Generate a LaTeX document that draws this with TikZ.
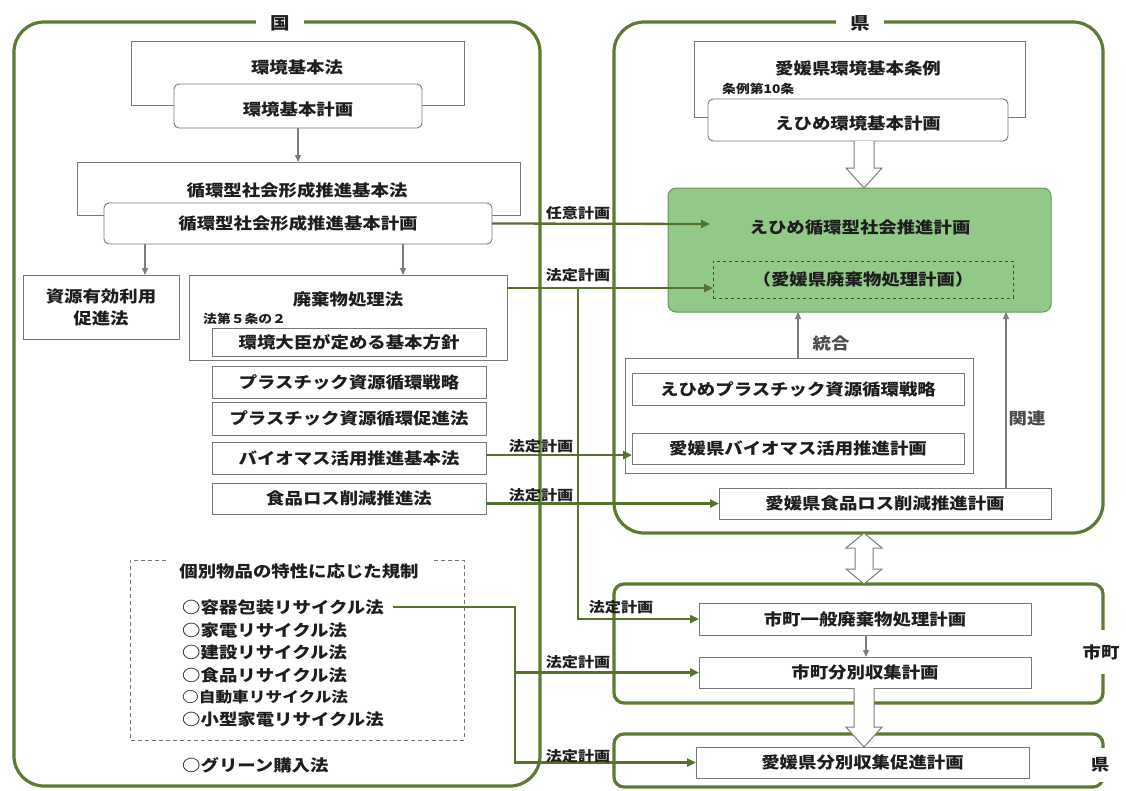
\documentclass[tikz,border=0pt]{standalone}
\usepackage{fontspec}
\setmainfont{Noto Sans CJK JP}[FakeStretch=1.15]
\usetikzlibrary{arrows.meta,calc}
\definecolor{frg}{RGB}{92,122,48}
\definecolor{cong}{RGB}{86,114,46}
\definecolor{boxgray}{RGB}{120,120,120}
\definecolor{arrgray}{RGB}{125,125,125}
\definecolor{gfill}{RGB}{146,200,136}
\definecolor{gdraw}{RGB}{105,150,90}
\definecolor{txtc}{RGB}{30,30,30}
\definecolor{txtg}{RGB}{75,75,75}
\newcommand\mfnt{\fontsize{16}{22}\selectfont\bfseries}
\newcommand\lfnt{\fontsize{14}{17}\selectfont\bfseries}
\newcommand\sfnt{\fontsize{12}{14}\selectfont\bfseries}
\newcommand\tfnt{\fontsize{17}{20}\selectfont\bfseries}
% box from corners: [style]{name}{x1}{y1}{x2}{y2}{text}
\newcommand\bxat[7][]{\node[bx,#1,minimum width={#5-(#3)},minimum height={#6-(#4)}] (#2) at ({(#3+#5)/2},{(#4+#6)/2}) {#7};}
\newcommand\blkdown[2]{\path[blk] let \p1=(#1), \p2=(#2) in (\x1-10pt,\y1) -- (\x1-10pt,\y2+20pt) -- (\x1-18pt,\y2+20pt) -- (\x1,\y2) -- (\x1+18pt,\y2+20pt) -- (\x1+10pt,\y2+20pt) -- (\x1+10pt,\y1);}
\newcommand\blkboth[2]{\path[blk] let \p1=(#1), \p2=(#2) in (\x1,\y1) -- (\x1+18pt,\y1-15pt) -- (\x1+9pt,\y1-15pt) -- (\x1+9pt,\y2+15pt) -- (\x1+18pt,\y2+15pt) -- (\x1,\y2) -- (\x1-18pt,\y2+15pt) -- (\x1-9pt,\y2+15pt) -- (\x1-9pt,\y1-15pt) -- (\x1-18pt,\y1-15pt) -- cycle;}
\begin{document}
\begin{tikzpicture}[x=1pt,y=-1pt,
  bx/.style={draw=boxgray, line width=0.9pt, fill=white, inner sep=0pt, outer sep=0pt, font=\mfnt, text=txtc, align=center},
  rbx/.style={rounded corners=5pt},
  gbox/.style={fill=gfill, draw=gdraw, line width=1pt, rounded corners=8pt},
  dplan/.style={fill=none, draw={rgb,255:red,60;green,80;blue,50}, dashed, line width=0.9pt},
  txt/.style={inner sep=0pt, font=\mfnt, text=txtc},
  itm/.style={inner sep=0pt, font=\mfnt, text=txtc, anchor=west},
  small/.style={inner sep=0pt, font=\sfnt, text=txtc, anchor=west},
  lab/.style={inner sep=0pt, font=\lfnt, text=txtc},
  glab/.style={inner sep=0pt, font=\mfnt, text=txtg},
  ttl/.style={fill=white, inner xsep=14pt, inner ysep=2pt, font=\tfnt, text=txtc},
  frame/.style={draw=frg, line width=3.2pt, rounded corners=30pt},
  con/.style={draw=cong, line width=2.3pt, -{Triangle[length=9pt,width=8pt]}},
  garrow/.style={draw=arrgray, line width=1.1pt, -{Triangle[length=7pt,width=6pt]}},
  blk/.style={draw=arrgray, line width=1pt, fill=white},
  dashbox/.style={draw=boxgray, line width=0.8pt, dash pattern=on 4pt off 3pt}
]
\useasboundingbox (0,0) rectangle (1126,790);
\fill[white] (0,0) rectangle (1126,790);

% ---------- frames ----------
\draw[frame] (14,22) rectangle (540,786);
\draw[frame] (614,22) rectangle (1103,533);
\draw[frame, rounded corners=10pt] (614,584) rectangle (1103,703);
\draw[frame, rounded corners=10pt] (614,734) rectangle (1103,787);
\node[ttl] (kuniT) at (280,23) {国};
\node[ttl] (kenT) at (860,23) {県};
\node[ttl, font=\mfnt, inner xsep=2pt, inner ysep=14pt] (shichoT) at (1101,652) {市町};
\node[ttl, font=\mfnt, inner xsep=2pt, inner ysep=10pt] (kenT2) at (1100,765) {県};

% ---------- 国 ----------
\bxat{kihonho}{131}{41}{464}{105}{}
\node[txt] (t-kihonho) at (297,67) {環境基本法};
\bxat[rbx]{kihonkeikaku}{174}{84}{422}{128}{}
\node[txt] (t-kihonkeikaku) at (298,109) {環境基本計画};
\bxat{junkanho}{77}{162}{520}{215}{}
\node[txt] (t-junkanho) at (297,190) {循環型社会形成推進基本法};
\bxat[rbx]{junkankeikaku}{104}{203}{492}{244}{循環型社会形成推進基本計画}
\bxat{shigen}{23}{275}{179}{339}{資源有効利用\\促進法}
\bxat{haiki}{189}{275}{507}{360}{}
\node[txt] (t-haiki) at (348,299) {廃棄物処理法};
\node[small] (jou5) at (203,319) {法第５条の２};
\bxat{houshin}{212}{328}{486}{356}{環境大臣が定める基本方針}
\bxat{psen}{212}{366}{486}{398}{プラスチック資源循環戦略}
\bxat{psoku}{212}{402}{486}{435}{プラスチック資源循環促進法}
\bxat{biomass}{212}{442}{486}{474}{バイオマス活用推進基本法}
\bxat{shokuhin}{212}{483}{486}{514}{食品ロス削減推進法}

\draw[dashbox] (166,560) -- (130,560) -- (130,740) -- (464,740) -- (464,560) -- (434,560);
\node[txt] (kobetsu) at (299,571) {個別物品の特性に応じた規制};
\node[itm] (i1) at (182,607) {○容器包装リサイクル法};
\node[itm] (i2) at (182,630) {○家電リサイクル法};
\node[itm] (i3) at (182,652) {○建設リサイクル法};
\node[itm] (i4) at (182,675) {○食品リサイクル法};
\node[itm, font=\fontsize{14.5}{17}\selectfont\bfseries] (i5) at (182,697) {○自動車リサイクル法};
\node[itm] (i6) at (182,719) {○小型家電リサイクル法};
\node[itm] (i7) at (182,765) {○グリーン購入法};

% ---------- 県 ----------
\bxat{jourei}{694}{41}{1025}{117}{}
\node[txt] (t-jourei) at (858,68) {愛媛県環境基本条例};
\node[small] (jou10) at (722,89) {条例第10条};
\bxat[rbx]{ehimekeikaku}{708}{99}{1008}{141}{}
\node[txt] (t-ehimekeikaku) at (858,123) {えひめ環境基本計画};
\bxat[gbox]{green}{668}{188}{1051}{312}{}
\node[txt] (t-green) at (860,227) {えひめ循環型社会推進計画};
\bxat[dplan]{dashedplan}{713}{261}{1013}{298}{（愛媛県廃棄物処理計画）}
\bxat{group}{625}{358}{973}{473}{}
\bxat{eplastic}{632}{373}{964}{405}{えひめプラスチック資源循環戦略}
\bxat{ebiomass}{632}{433}{964}{464}{愛媛県バイオマス活用推進計画}
\bxat{splan}{719}{488}{1051}{519}{愛媛県食品ロス削減推進計画}
\node[glab] (tougou) at (831,343) {統合};
\node[glab] (kanren) at (1027,418) {関連};

% ---------- 市町 / 県 ----------
\bxat{shichoippan}{699}{603}{1031}{635}{市町一般廃棄物処理計画}
\bxat{shichobunbetsu}{699}{657}{1031}{688}{市町分別収集計画}
\bxat{kenbunbetsu}{696}{747}{1029}{778}{愛媛県分別収集促進計画}

% ---------- gray arrows ----------
\draw[garrow] (kihonkeikaku.south) -- (kihonkeikaku.south |- junkanho.north);
\draw[garrow] (145,0 |- junkankeikaku.south) -- (145,0 |- shigen.north);
\draw[garrow] (403,0 |- junkankeikaku.south) -- (403,0 |- haiki.north);
\draw[garrow] (798,0 |- group.north) -- (798,0 |- green.south);
\draw[garrow] (1006,0 |- splan.north) -- (1006,0 |- green.south);
\draw[garrow] (866,0 |- shichoippan.south) -- (866,0 |- shichobunbetsu.north);

% ---------- block arrows ----------
\blkdown{ehimekeikaku.south -| 864,0}{green.north -| 864,0}
\coordinate (kenbot) at (864,533);
\coordinate (shitop) at (864,584);
\blkboth{kenbot}{shitop}
\blkdown{shichobunbetsu.south -| 864,0}{kenbunbetsu.north -| 864,0}

% ---------- green connectors ----------
\coordinate (greenin) at (710,224);
\draw[con] (junkankeikaku.east) -- (greenin);
\coordinate (wj) at (578,288);
\draw[con] (haiki.east |- wj) -- (dashedplan.west |- wj);
\draw[con] (wj) |- (shichoippan.west);
\draw[con] (biomass.east |- 0,455) -- (ebiomass.west |- 0,455);
\draw[con] (shokuhin.east |- splan.west) -- (splan.west);
\coordinate (yj) at (i1.east -| 515,0);
\draw[con] ([xshift=9pt]i1.east) -- (yj) |- (kenbunbetsu.west);
\draw[con] (yj |- shichobunbetsu.west) -- (shichobunbetsu.west);

% ---------- connector labels ----------
\node[lab] (l1) at (578,213) {任意計画};
\node[lab] (l2) at (578,275) {法定計画};
\node[lab] (l3) at (541,446) {法定計画};
\node[lab] (l4) at (541,495) {法定計画};
\node[lab] (l5) at (621,607) {法定計画};
\node[lab] (l6) at (578,662) {法定計画};
\node[lab] (l7) at (578,756) {法定計画};
\end{tikzpicture}
\end{document}
